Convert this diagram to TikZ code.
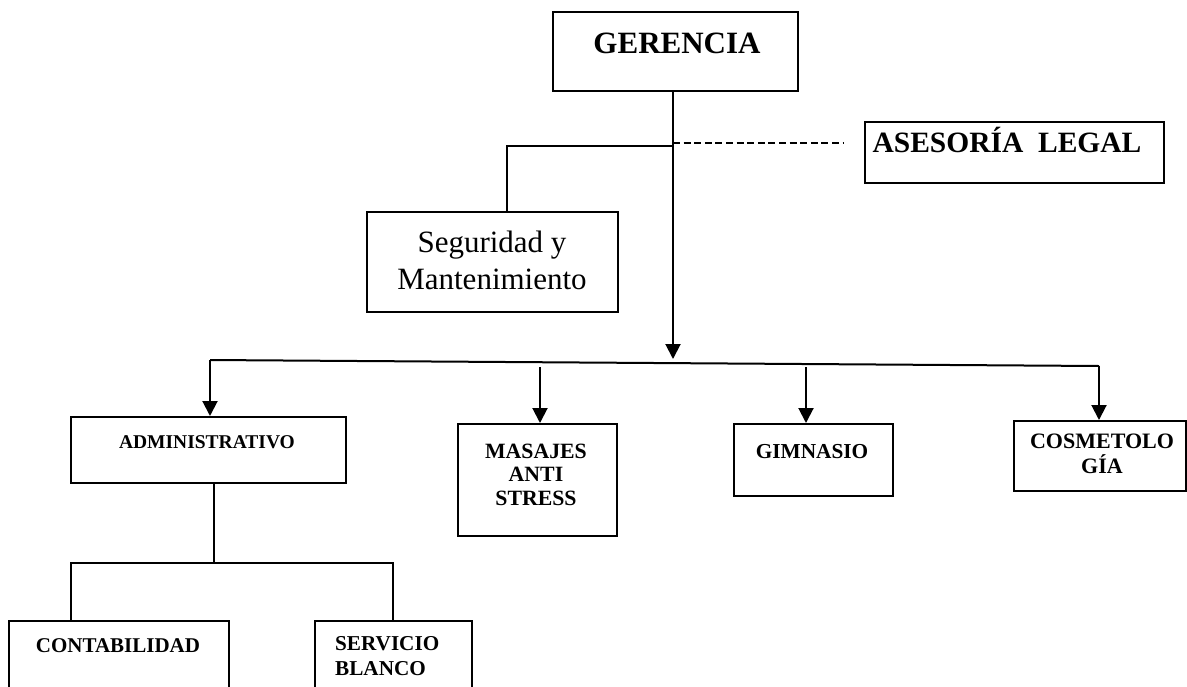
\documentclass[tikz,border=0pt]{standalone}
\usepackage{fontspec}
\setmainfont{Liberation Serif}
\usetikzlibrary{arrows.meta}
\begin{document}
\begin{tikzpicture}[x=1pt,y=-1pt,
  box/.style={draw,line width=2pt,inner sep=0pt,anchor=north west},
  lbl/.style={inner sep=0pt,anchor=base,align=center},
  conn/.style={line width=2pt},
  arr/.style={line width=2pt,-{Triangle[width=15pt,length=15pt]}},
  dsh/.style={line width=2.6pt,dash pattern=on 7pt off 3.6pt}]
\useasboundingbox (0,0) rectangle (1187,686);
\clip (0,0) rectangle (1187,686);
% boxes
\node[box,minimum width=245pt,minimum height=79pt] (ger) at (552,11) {};
\node[box,minimum width=299pt,minimum height=61pt] (ase) at (864,121) {};
\node[box,minimum width=251pt,minimum height=100pt] (seg) at (366,211) {};
\node[box,minimum width=275pt,minimum height=66pt] (adm) at (70,416) {};
\node[box,minimum width=159pt,minimum height=112pt] (mas) at (457,423) {};
\node[box,minimum width=159pt,minimum height=72pt] (gim) at (733,423) {};
\node[box,minimum width=172pt,minimum height=70pt] (cos) at (1013,420) {};
\node[box,minimum width=220pt,minimum height=80pt] (con) at (8,620) {};
\node[box,minimum width=157pt,minimum height=80pt] (ser) at (314,620) {};
% labels (multi-line labels are anchored at the baseline of their last line)
\node[lbl,font=\fontsize{31}{37}\selectfont\bfseries] (tger) at (677,53) {GERENCIA};
\node[lbl,font=\fontsize{29.5}{35}\selectfont\bfseries] (tase) at (1007,152) {ASESORÍA\hspace{0.5em}LEGAL};
\node[lbl,font=\fontsize{31}{37}\selectfont] (tseg) at (492,289) {Seguridad y\\Mantenimiento};
\node[lbl,font=\fontsize{19.5}{23}\selectfont\bfseries] (tadm) at (207,448) {ADMINISTRATIVO};
\node[lbl,font=\fontsize{21.8}{23.5}\selectfont\bfseries] (tmas) at (536,505) {MASAJES\\ANTI\\STRESS};
\node[lbl,font=\fontsize{21.3}{24}\selectfont\bfseries] (tgim) at (812,458) {GIMNASIO};
\node[lbl,font=\fontsize{22}{25}\selectfont\bfseries] (tcos) at (1102,473) {COSMETOLO\\GÍA};
\node[lbl,font=\fontsize{21}{24}\selectfont\bfseries] (tcon) at (118,652) {CONTABILIDAD};
\node[lbl,align=left,anchor=base west,font=\fontsize{21.2}{25}\selectfont\bfseries] (tser) at (335,675) {SERVICIO\\BLANCO};
% coordinates
\coordinate (gbot) at (673,90);
\coordinate (hl) at (210,360);
\coordinate (hr) at (1099,366);
\coordinate (hm) at (673,359);
\coordinate (sj) at (673,146);
\coordinate (sl) at (507,146);
\coordinate (dj) at (673,143);
\coordinate (de) at (843,143);
\coordinate (m1) at (540,367);
\coordinate (g1) at (806,367);
\coordinate (a1) at (214,563);
\coordinate (al) at (71,563);
\coordinate (ar) at (393,563);
% connectors
\draw[arr] (gbot) -- (hm);
\draw[conn] (hl) -- (hr);
\draw[arr] (hl) -- (hl |- adm.north);
\draw[arr] (m1) -- (m1 |- mas.north);
\draw[arr] (g1) -- (g1 |- gim.north);
\draw[arr] (hr) -- (hr |- cos.north);
\draw[conn] (sj) -- (sl) -- (sl |- seg.north);
\draw[dsh] (dj) -- (de);
\draw[conn] (a1 |- adm.south) -- (a1);
\draw[conn] (al |- con.north) -- (al) -- (ar) -- (ar |- ser.north);
\end{tikzpicture}
\end{document}
